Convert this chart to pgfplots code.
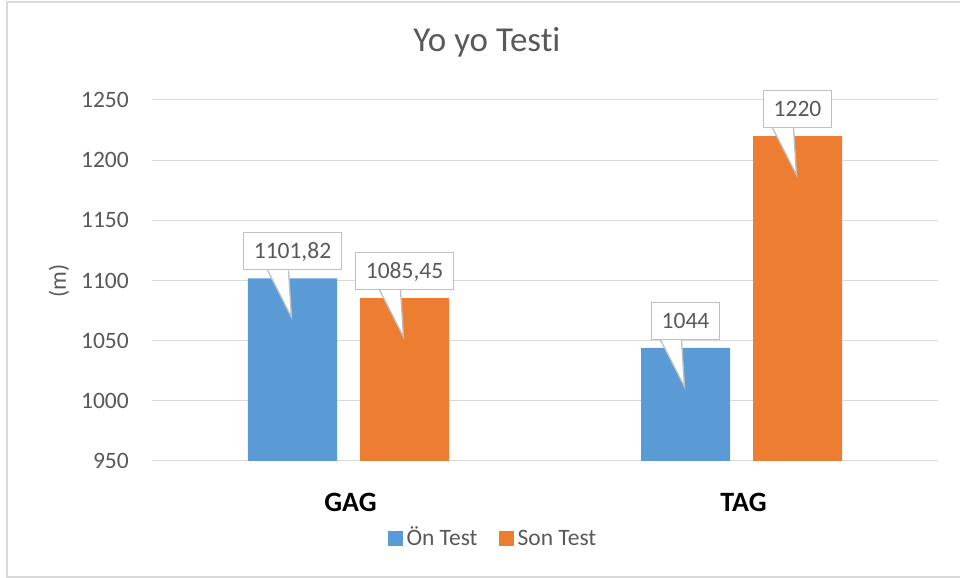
\documentclass[border=0pt]{standalone}
\usepackage{pgfplots}
\pgfplotsset{compat=1.18}
\usepackage{fontspec}
\setmainfont{Carlito}[Ligatures=NoCommon]
\definecolor{cblue}{HTML}{5B9BD5}
\definecolor{corange}{HTML}{ED7D31}
\definecolor{tgray}{HTML}{595959}
\definecolor{ggray}{HTML}{D9D9D9}
\definecolor{bgray}{HTML}{BFBFBF}
\definecolor{pwhite}{HTML}{FFFFFF}
\newcommand{\fsmall}{\fontsize{23.5bp}{28bp}\selectfont}
\begin{document}
\begin{tikzpicture}[x=1bp,y=1bp]
\useasboundingbox (0,0) rectangle (960,578);
\draw[ggray, line width=1.5bp] (962,576) -- (7,576) -- (7,1) -- (962,1);
\node[anchor=base, text=tgray, font=\fontsize{35bp}{42bp}\selectfont, inner sep=0pt] at (487,526) {Yo yo Testi};
\node[rotate=90, text=tgray, font=\fsmall, inner sep=0pt] at (59,297) {(m)};
\begin{axis}[
  at={(152bp,117bp)}, anchor=south west,
  scale only axis, width=786bp, height=361bp,
  ymin=950, ymax=1250, ytick={950,1000,...,1250},
  xmin=-0.5, xmax=1.5, xtick={0,1}, xticklabels={GAG,TAG},
  ymajorgrids, grid style={ggray, line width=1bp},
  axis line style={draw=none}, major tick length=0pt,
  /pgf/number format/assume math mode=true,
  /pgf/number format/1000 sep={},
  yticklabel style={anchor=east, inner sep=0pt, xshift=-23bp, text=tgray, font=\fsmall},
  xticklabel style={anchor=center, inner sep=0pt, yshift=-41bp, xshift=2bp, text=black, font=\fontsize{28bp}{34bp}\selectfont\bfseries},
  ybar, bar width=0.2265,
  clip mode=individual,
  nodes near coords={\pgfmathprintnumber[fixed,precision=2,use comma,1000 sep={}]{\pgfplotspointmeta}},
  every node near coord/.append style={anchor=south, yshift=8bp, fill=white, draw=bgray, line width=1.3bp,
     inner xsep=10bp, inner ysep=11bp, text height=15bp, text depth=0bp, font=\fsmall, text=tgray,
     append after command={\pgfextra{%
        \begin{pgfinterruptpath}%
        \path[fill=pwhite, draw=none] ([xshift=-25bp,yshift=1.2bp]\tikzlastnode.south) -- ([xshift=-4bp,yshift=1.2bp]\tikzlastnode.south) -- ([xshift=-1bp,yshift=-47bp]\tikzlastnode.south) -- cycle;
        \path[draw=bgray, fill=none, line width=1.3bp, line join=miter] ([xshift=-25bp]\tikzlastnode.south) -- ([xshift=-1bp,yshift=-47bp]\tikzlastnode.south) -- ([xshift=-4bp]\tikzlastnode.south);
        \end{pgfinterruptpath}}}},
  legend columns=2,
  legend style={at={(0.435,-0.2355)}, anchor=south, draw=none, fill=none, inner sep=0pt,
     font=\fsmall, text=tgray, cells={anchor=base west},
     /tikz/every even column/.append style={column sep=17bp},
     nodes={inner xsep=4bp, inner ysep=0pt, text depth=0pt}},
  legend image code/.code={\fill[#1] (0bp,0bp) rectangle (15bp,15bp);},
]
\addplot[fill=cblue, draw=none, bar shift=-0.1425] coordinates {(0,1101.82) (1,1044)};
\addplot[fill=corange, draw=none, bar shift=0.1425] coordinates {(0,1085.45) (1,1220)};
\legend{Ön Test, Son Test}
\end{axis}
\end{tikzpicture}
\end{document}
